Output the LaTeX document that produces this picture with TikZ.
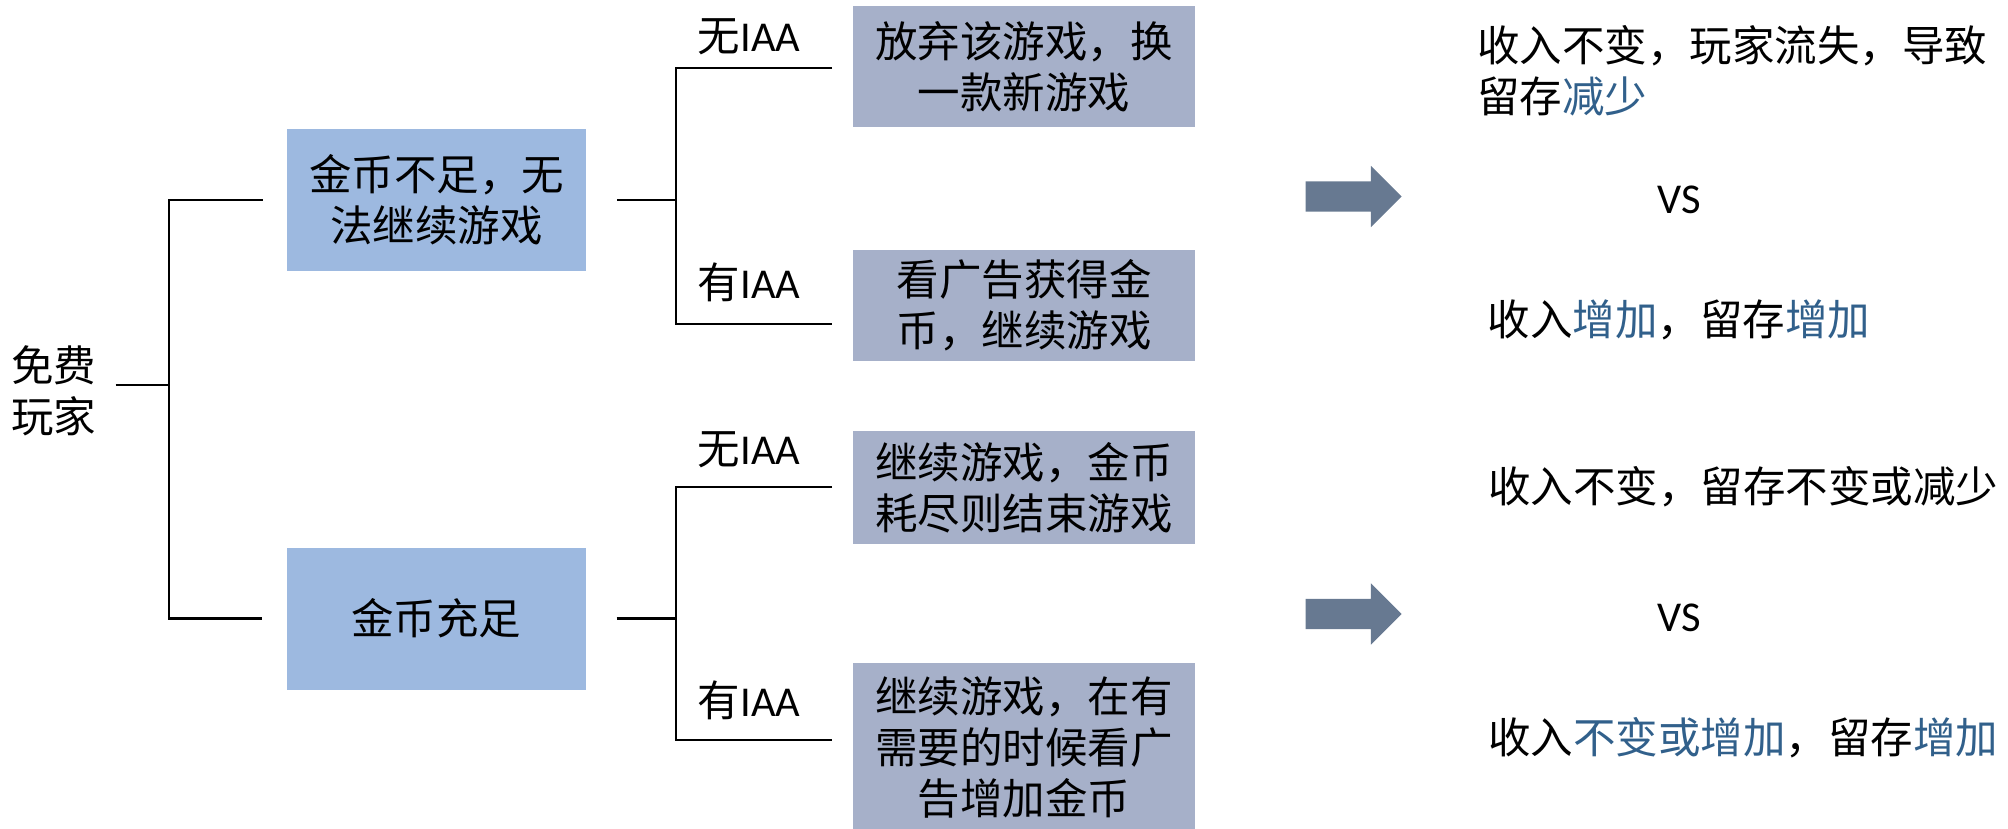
\documentclass[tikz,border=0pt]{standalone}
\usepackage{fontspec}
\setmainfont{Noto Sans CJK SC}
\newfontfamily\lat{Carlito}
\usetikzlibrary{shapes.arrows}
\definecolor{boxblue}{RGB}{157,185,224}
\definecolor{boxgray}{RGB}{166,176,201}
\definecolor{arrowc}{RGB}{103,121,145}
\definecolor{hl}{RGB}{49,96,139}
\begin{document}
\begin{tikzpicture}[x=1pt,y=-1pt,
  txt/.style={inner sep=0pt, font=\fontsize{42.5}{51}\selectfont, align=center},
  bluebox/.style={txt, fill=boxblue, minimum width=299, minimum height=142},
  graybox/.style={txt, fill=boxgray, minimum width=342},
  conn/.style={draw=black, line width=2.5pt},
  bigarrow/.style={single arrow, fill=arrowc, draw=none, inner xsep=0pt, inner ysep=15pt,
    minimum height=96, single arrow head extend=15.5pt,
    single arrow head indent=0pt}]
\useasboundingbox (0,0) rectangle (2008,829);
% nodes
\node[txt] (root) at (54,391) {免费\\玩家};
\node[bluebox] (box1) at (436.5,200) {金币不足，无\\法继续游戏};
\node[bluebox] (box2) at (436,618.5) {金币充足};
\node[graybox, minimum height=121] (b11) at (1024,66.5) {放弃该游戏，换\\一款新游戏};
\node[graybox, minimum height=111] (b12) at (1024,305.5) {看广告获得金\\币，继续游戏};
\node[graybox, minimum height=113] (b21) at (1024,487.5) {继续游戏，金币\\耗尽则结束游戏};
\node[graybox, minimum height=170] (b22) at (1024,748) {继续游戏，在有\\需要的时候看广\\告增加金币};
% labels
\node[txt] (l11) at (749,37) {无{\lat IAA}};
\node[txt] (l12) at (749,282) {有{\lat IAA}};
\node[txt] (l21) at (749,450) {无{\lat IAA}};
\node[txt] (l22) at (749,700) {有{\lat IAA}};
% right texts
\node[txt, align=left, anchor=west] (r1) at (1477,70.5) {收入不变，玩家流失，导致\\留存\textcolor{hl}{减少}};
\node[txt] (vs1) at (1679,200) {\lat VS};
\node[txt] (r2) at (1679,320) {收入\textcolor{hl}{增加}，留存\textcolor{hl}{增加}};
\node[txt] (r3) at (1743,487) {收入不变，留存不变或减少};
\node[txt] (vs2) at (1679,618) {\lat VS};
\node[txt] (r4) at (1743,738) {收入\textcolor{hl}{不变或增加}，留存\textcolor{hl}{增加}};
% arrows
\node[bigarrow] (a1) at (1346,196.5) {};
\node[bigarrow] (a2) at (1346,614) {};
% connectors level 1
\coordinate (j0) at (169,385);
\path (root.east) ++(19,0) coordinate (r0);
\draw[conn] (r0 |- j0) -- (j0);
\draw[conn] ([xshift=-24pt]box1.west) -| (j0 |- box2.west) -- ([xshift=-24pt]box2.west);
% connectors level 2
\coordinate (t11) at (832,68);
\coordinate (t12) at (832,324);
\coordinate (t21) at (832,487);
\coordinate (t22) at (832,740);
\draw[conn] ([xshift=31pt]box1.east) -- (676,200) coordinate (j1);
\draw[conn] (t11) -| (j1 |- t12) -- (t12);
\draw[conn] ([xshift=31pt]box2.east) -- (676,618.5) coordinate (j2);
\draw[conn] (t21) -| (j2 |- t22) -- (t22);
\end{tikzpicture}
\end{document}
